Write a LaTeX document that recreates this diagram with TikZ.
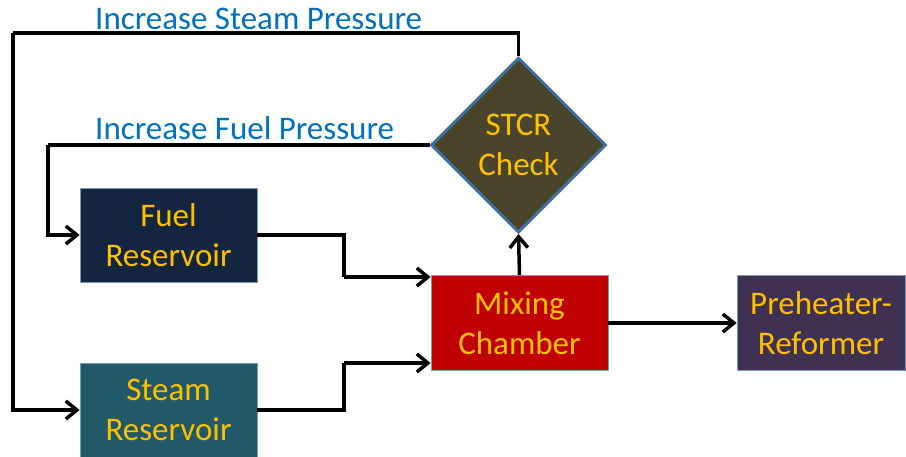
\documentclass[tikz,border=0pt]{standalone}
\usepackage{fontspec}
\setmainfont{Carlito}
\usetikzlibrary{shapes.geometric,arrows.meta}

\definecolor{fuelblue}{HTML}{14253F}
\definecolor{steamteal}{HTML}{215968}
\definecolor{mixred}{HTML}{C00000}
\definecolor{prepurple}{HTML}{403152}
\definecolor{checkolive}{HTML}{4A452A}
\definecolor{rimblue}{HTML}{41719C}
\definecolor{txtgold}{HTML}{FFC000}
\definecolor{labelblue}{HTML}{0070C0}

\begin{document}
\begin{tikzpicture}[x=1pt,y=-1pt,
  unitbox/.style={rectangle, draw=rimblue!70, line width=0.8pt, text=txtgold,
    align=center, inner sep=0pt, minimum width=177pt, minimum height=94pt,
    font=\fontsize{33pt}{40pt}\selectfont},
  flow/.style={draw, line width=3.5pt, -{Straight Barb[length=11pt,width=18pt]}},
  link/.style={draw, line width=3.5pt},
  looplabel/.style={anchor=base west, inner sep=0pt, text=labelblue,
    font=\fontsize{33pt}{40pt}\selectfont}]
\useasboundingbox (0,0) rectangle (906,456);

%units
\node[unitbox, fill=fuelblue] (fuel) at (168.5,235) {Fuel\\Reservoir};
\node[unitbox, fill=steamteal] (steam) at (168.5,410) {Steam\\Reservoir};
\node[unitbox, fill=mixred, minimum height=95pt] (mix) at (519.5,323) {Mixing\\Chamber};
\node[unitbox, fill=prepurple, minimum width=168pt, minimum height=95pt] (pre) at (821,323) {Preheater-\\Reformer};
\node[diamond, draw=rimblue, line width=3pt, fill=checkolive, text=txtgold,
  align=center, inner sep=0pt, minimum size=175pt,
  font=\fontsize{33pt}{40pt}\selectfont] (check) at (518.5,145) {STCR\\Check};

%corners of the feedback loops
\coordinate (steamtop) at (13,33);
\coordinate (fueltop) at (48,145);
\coordinate (fueljoin) at (344,277);
\coordinate (steamjoin) at (344,363);

%forward flow
\path[link] (fuel.east) -| (fueljoin);
\path[flow] (fueljoin) -- (mix.west |- fueljoin);
\path[link] (steam.east) -| (steamjoin);
\path[flow] (steamjoin) -- (mix.west |- steamjoin);
\path[flow] (mix.north) -- (check.south);
\path[flow] (mix.east) -- (pre.west);

%feedback
\path[link] (check.north) |- (steamtop);
\path[flow] (steamtop) |- (steam.west);
\path[link] (check.west) -- (fueltop);
\path[flow] (fueltop) |- (fuel.west);

\node[looplabel] (steamlabel) at (95,29) {Increase Steam Pressure};
\node[looplabel] (fuellabel) at (95,139) {Increase Fuel Pressure};
\end{tikzpicture}
\end{document}
